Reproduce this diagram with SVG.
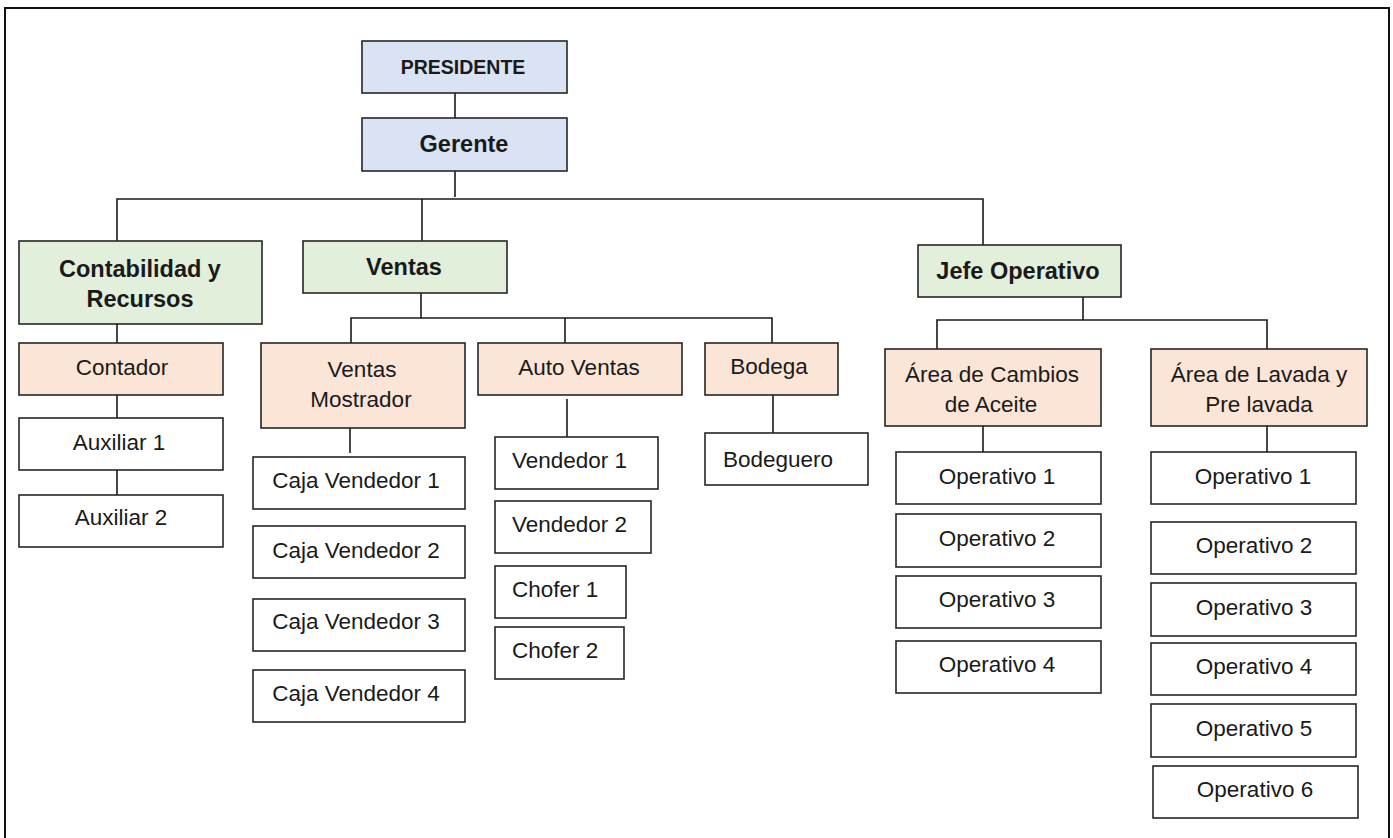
<svg xmlns="http://www.w3.org/2000/svg" width="1393" height="838" viewBox="0 0 1393 838">
<style>
.b{stroke:#262626;stroke-width:1.6}
.w{fill:#ffffff}
.blue{fill:#dae3f3}
.green{fill:#e2efda}
.sal{fill:#fbe5d6}
text{font-family:"Liberation Sans",Arial,sans-serif;font-size:22.5px;fill:#1a1a1a;text-anchor:middle}
.bold{font-weight:bold;font-size:23.5px}
.l{text-anchor:start}
#conn path{fill:none;stroke:#1a1a1a;stroke-width:1.6}
</style>
<rect width="1393" height="838" fill="#ffffff"/>
<path d="M5,838 V8 H1389 V838" fill="none" stroke="#111" stroke-width="2"/>
<g id="conn">
<path d="M455,93 V118"/>
<path d="M455,171 V197"/>
<path d="M117,241 V199 H983 V245"/>
<path d="M422,199 V241"/>
<path d="M117,324 V343"/>
<path d="M117,395 V418"/>
<path d="M117,470 V495"/>
<path d="M421,293 V318"/>
<path d="M351,343 V318 H772 V343"/>
<path d="M565,318 V343"/>
<path d="M350,428 V453"/>
<path d="M567,399 V437"/>
<path d="M773,395 V433"/>
<path d="M1083,297 V320"/>
<path d="M937,349 V320 H1267 V349"/>
<path d="M983,426 V452"/>
<path d="M1267,426 V452"/>
</g>
<g id="presidente"><rect class="b blue" x="362" y="41" width="205" height="52"/><text class="bold" x="463" y="74" style="font-size:19.5px">PRESIDENTE</text></g>
<g id="gerente"><rect class="b blue" x="362" y="118" width="205" height="53"/><text class="bold" x="464" y="152">Gerente</text></g>
<g id="contabilidad"><rect class="b green" x="19" y="241" width="243" height="83"/><text class="bold" x="140" y="277">Contabilidad y</text><text class="bold" x="140" y="307">Recursos</text></g>
<g id="ventas"><rect class="b green" x="303" y="241" width="204" height="52"/><text class="bold" x="404" y="275">Ventas</text></g>
<g id="jefe"><rect class="b green" x="918" y="245" width="203" height="52"/><text class="bold" x="1018" y="279">Jefe Operativo</text></g>
<g id="contador"><rect class="b sal" x="19" y="343" width="204" height="52"/><text x="122" y="375">Contador</text></g>
<g id="aux1"><rect class="b w" x="19" y="418" width="204" height="52"/><text x="119" y="450">Auxiliar 1</text></g>
<g id="aux2"><rect class="b w" x="19" y="495" width="204" height="52"/><text x="121" y="525">Auxiliar 2</text></g>
<g id="ventasmostrador"><rect class="b sal" x="261" y="343" width="204" height="85"/><text x="362" y="377">Ventas</text><text x="361" y="407">Mostrador</text></g>
<g id="caja1"><rect class="b w" x="253" y="457" width="212" height="52"/><text x="356" y="488">Caja Vendedor 1</text></g>
<g id="caja2"><rect class="b w" x="253" y="526" width="212" height="52"/><text x="356" y="558">Caja Vendedor 2</text></g>
<g id="caja3"><rect class="b w" x="253" y="599" width="212" height="52"/><text x="356" y="629">Caja Vendedor 3</text></g>
<g id="caja4"><rect class="b w" x="253" y="670" width="212" height="52"/><text x="356" y="701">Caja Vendedor 4</text></g>
<g id="autoventas"><rect class="b sal" x="478" y="343" width="204" height="52"/><text x="579" y="375">Auto Ventas</text></g>
<g id="vendedor1"><rect class="b w" x="495" y="437" width="163" height="52"/><text class="l" x="512" y="468">Vendedor 1</text></g>
<g id="vendedor2"><rect class="b w" x="495" y="501" width="156" height="52"/><text class="l" x="512" y="532">Vendedor 2</text></g>
<g id="chofer1"><rect class="b w" x="495" y="566" width="131" height="52"/><text class="l" x="512" y="597">Chofer 1</text></g>
<g id="chofer2"><rect class="b w" x="495" y="627" width="129" height="52"/><text class="l" x="512" y="658">Chofer 2</text></g>
<g id="bodega"><rect class="b sal" x="705" y="343" width="133" height="52"/><text x="769" y="374">Bodega</text></g>
<g id="bodeguero"><rect class="b w" x="705" y="433" width="163" height="52"/><text x="778" y="467">Bodeguero</text></g>
<g id="cambios"><rect class="b sal" x="885" y="349" width="216" height="77"/><text x="992" y="382">Área de Cambios</text><text x="991" y="412">de Aceite</text></g>
<g id="lavada"><rect class="b sal" x="1151" y="349" width="216" height="77"/><text x="1259" y="382">Área de Lavada y</text><text x="1259" y="412">Pre lavada</text></g>
<g id="opA1"><rect class="b w" x="896" y="452" width="205" height="52"/><text x="997" y="484">Operativo 1</text></g>
<g id="opA2"><rect class="b w" x="896" y="514" width="205" height="53"/><text x="997" y="546">Operativo 2</text></g>
<g id="opA3"><rect class="b w" x="896" y="576" width="205" height="52"/><text x="997" y="607">Operativo 3</text></g>
<g id="opA4"><rect class="b w" x="896" y="641" width="205" height="52"/><text x="997" y="672">Operativo 4</text></g>
<g id="opB1"><rect class="b w" x="1151" y="452" width="205" height="52"/><text x="1253" y="484">Operativo 1</text></g>
<g id="opB2"><rect class="b w" x="1151" y="522" width="205" height="52"/><text x="1254" y="553">Operativo 2</text></g>
<g id="opB3"><rect class="b w" x="1151" y="583" width="205" height="53"/><text x="1254" y="615">Operativo 3</text></g>
<g id="opB4"><rect class="b w" x="1151" y="643" width="205" height="52"/><text x="1254" y="674">Operativo 4</text></g>
<g id="opB5"><rect class="b w" x="1151" y="704" width="205" height="53"/><text x="1254" y="736">Operativo 5</text></g>
<g id="opB6"><rect class="b w" x="1153" y="766" width="205" height="52"/><text x="1255" y="797">Operativo 6</text></g>
</svg>
